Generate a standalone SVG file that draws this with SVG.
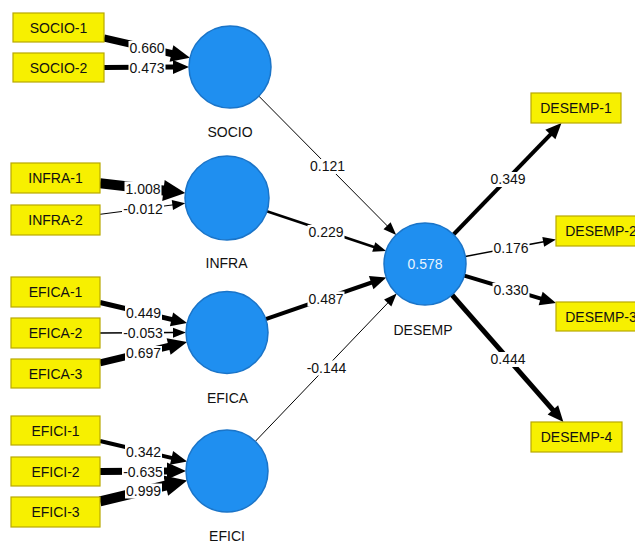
<svg xmlns="http://www.w3.org/2000/svg" width="635" height="543" viewBox="0 0 635 543">
<style>
.box{fill:#f7f000;stroke:#b8a800;stroke-width:1.2}
.lv{fill:#1f8ff0;stroke:#1a74c8;stroke-width:1.5}
.t{font-family:"Liberation Sans",Arial,sans-serif;font-size:14px;fill:#111;text-anchor:middle}
.bg{fill:#fff}
.c{stroke:#000;fill:none;stroke-linecap:butt}
.h{fill:#000}
</style>
<defs>
<polygon id="hs" points="0,0 -13,-5 -13,5"/>
<polygon id="hm" points="0,0 -16,-7 -16,7"/>
<polygon id="hl" points="0,0 -19,-8.5 -19,8.5"/>
<polygon id="hx" points="0,0 -22,-10.5 -22,10.5"/>
</defs>
<rect width="635" height="543" fill="#fff"/>
<g id="connectors">
<line class="c" x1="104" y1="38" x2="173.5" y2="54" stroke-width="7"/>
<use class="h" href="#hl" transform="translate(190,57.8) rotate(12.97)"/>
<line class="c" x1="104" y1="67.4" x2="175" y2="67.1" stroke-width="5"/>
<use class="h" href="#hm" transform="translate(189,67) rotate(-0.2)"/>
<line class="c" x1="100" y1="183.2" x2="165.4" y2="190.8" stroke-width="10"/>
<use class="h" href="#hx" transform="translate(185.3,193.1) rotate(6.65)"/>
<line class="c" x1="100" y1="214.3" x2="174.4" y2="204.7" stroke-width="1"/>
<use class="h" href="#hs" transform="translate(185.3,203.3) rotate(-7.31)"/>
<line class="c" x1="100" y1="302.5" x2="173.5" y2="319.9" stroke-width="5"/>
<use class="h" href="#hm" transform="translate(187.1,323.1) rotate(13.29)"/>
<line class="c" x1="100" y1="332.9" x2="175" y2="332.6" stroke-width="1.5"/>
<use class="h" href="#hs" transform="translate(186,332.6) rotate(-0.2)"/>
<line class="c" x1="100" y1="362.9" x2="170.6" y2="346" stroke-width="7"/>
<use class="h" href="#hl" transform="translate(187.1,342) rotate(-13.44)"/>
<line class="c" x1="100" y1="441" x2="173.5" y2="458.4" stroke-width="4"/>
<use class="h" href="#hm" transform="translate(187.1,461.6) rotate(13.29)"/>
<line class="c" x1="100" y1="471.4" x2="169" y2="471.1" stroke-width="7"/>
<use class="h" href="#hl" transform="translate(186,471) rotate(-0.2)"/>
<line class="c" x1="100" y1="501.4" x2="167.6" y2="485.2" stroke-width="10"/>
<use class="h" href="#hx" transform="translate(187.1,480.5) rotate(-13.44)"/>
<line class="c" x1="258.8" y1="96.1" x2="388.5" y2="227.1" stroke-width="1"/>
<use class="h" href="#hs" transform="translate(396.2,234.9) rotate(45.29)"/>
<line class="c" x1="266.8" y1="211.3" x2="374.7" y2="247.2" stroke-width="2.5"/>
<use class="h" href="#hs" transform="translate(386.1,251) rotate(18.43)"/>
<line class="c" x1="265.7" y1="319.1" x2="373.1" y2="282" stroke-width="4"/>
<use class="h" href="#hm" transform="translate(386.3,277.4) rotate(-19.08)"/>
<line class="c" x1="255.3" y1="441.4" x2="389.1" y2="301.6" stroke-width="1"/>
<use class="h" href="#hs" transform="translate(396.7,293.6) rotate(-46.27)"/>
<line class="c" x1="453.5" y1="234.5" x2="551.8" y2="133.1" stroke-width="4"/>
<use class="h" href="#hm" transform="translate(561.5,123) rotate(-45.94)"/>
<line class="c" x1="465.3" y1="256.4" x2="545.2" y2="241.4" stroke-width="1.5"/>
<use class="h" href="#hs" transform="translate(556,239.4) rotate(-10.62)"/>
<line class="c" x1="464.3" y1="275.7" x2="542.6" y2="299.1" stroke-width="4"/>
<use class="h" href="#hm" transform="translate(556,303.1) rotate(16.61)"/>
<line class="c" x1="452" y1="294.8" x2="553.5" y2="410.7" stroke-width="5"/>
<use class="h" href="#hm" transform="translate(563.4,422) rotate(48.8)"/>
<rect class="bg" x="128.5" y="41" width="37" height="15"/><text class="t" x="147" y="53">0.660</text>
<rect class="bg" x="128.5" y="61" width="37" height="15"/><text class="t" x="147" y="73">0.473</text>
<rect class="bg" x="124.5" y="181.5" width="37" height="15"/><text class="t" x="143" y="193.5">1.008</text>
<rect class="bg" x="122" y="202" width="42" height="15"/><text class="t" x="143" y="214">-0.012</text>
<rect class="bg" x="125" y="306" width="37" height="15"/><text class="t" x="143.5" y="318">0.449</text>
<rect class="bg" x="122" y="326" width="42" height="15"/><text class="t" x="143" y="338">-0.053</text>
<rect class="bg" x="125" y="346" width="37" height="15"/><text class="t" x="143.5" y="358">0.697</text>
<rect class="bg" x="125" y="444.5" width="37" height="15"/><text class="t" x="143.5" y="456.5">0.342</text>
<rect class="bg" x="122" y="465" width="42" height="15"/><text class="t" x="143" y="477">-0.635</text>
<rect class="bg" x="125" y="483.5" width="37" height="15"/><text class="t" x="143.5" y="495.5">0.999</text>
<rect class="bg" x="309" y="159" width="37" height="15"/><text class="t" x="327.5" y="171">0.121</text>
<rect class="bg" x="307.5" y="225" width="37" height="15"/><text class="t" x="326" y="237">0.229</text>
<rect class="bg" x="307.5" y="291.5" width="37" height="15"/><text class="t" x="326" y="303.5">0.487</text>
<rect class="bg" x="305.5" y="360.5" width="42" height="15"/><text class="t" x="326.5" y="372.5">-0.144</text>
<rect class="bg" x="489.5" y="172" width="37" height="15"/><text class="t" x="508" y="184">0.349</text>
<rect class="bg" x="492.5" y="241" width="37" height="15"/><text class="t" x="511" y="253">0.176</text>
<rect class="bg" x="492.5" y="283" width="37" height="15"/><text class="t" x="511" y="295">0.330</text>
<rect class="bg" x="489.5" y="352" width="37" height="15"/><text class="t" x="508" y="364">0.444</text>
</g>
<g id="SOCIO-1"><rect class="box" x="13" y="13" width="91" height="29"/><text class="t" x="58.5" y="32.5">SOCIO-1</text></g>
<g id="SOCIO-2"><rect class="box" x="13" y="53" width="91" height="29"/><text class="t" x="58.5" y="72.5">SOCIO-2</text></g>
<g id="INFRA-1"><rect class="box" x="11" y="163" width="89" height="30"/><text class="t" x="55.5" y="183">INFRA-1</text></g>
<g id="INFRA-2"><rect class="box" x="11" y="205" width="89" height="30"/><text class="t" x="55.5" y="225">INFRA-2</text></g>
<g id="EFICA-1"><rect class="box" x="11" y="277" width="89" height="30"/><text class="t" x="55.5" y="297">EFICA-1</text></g>
<g id="EFICA-2"><rect class="box" x="11" y="318" width="89" height="30"/><text class="t" x="55.5" y="338">EFICA-2</text></g>
<g id="EFICA-3"><rect class="box" x="11" y="359" width="89" height="29"/><text class="t" x="55.5" y="378.5">EFICA-3</text></g>
<g id="EFICI-1"><rect class="box" x="11" y="416" width="89" height="29"/><text class="t" x="55.5" y="435.5">EFICI-1</text></g>
<g id="EFICI-2"><rect class="box" x="11" y="457" width="89" height="29"/><text class="t" x="55.5" y="476.5">EFICI-2</text></g>
<g id="EFICI-3"><rect class="box" x="11" y="497" width="89" height="30"/><text class="t" x="55.5" y="517">EFICI-3</text></g>
<g id="SOCIO"><circle class="lv" cx="230" cy="67" r="41"/><text class="t" x="230" y="137">SOCIO</text></g>
<g id="INFRA"><circle class="lv" cx="227" cy="198" r="42"/><text class="t" x="226.5" y="268">INFRA</text></g>
<g id="EFICA"><circle class="lv" cx="227" cy="332.5" r="41"/><text class="t" x="227.5" y="403">EFICA</text></g>
<g id="EFICI"><circle class="lv" cx="227" cy="471" r="41"/><text class="t" x="227" y="541">EFICI</text></g>
<g id="DESEMP"><circle class="lv" cx="425" cy="264" r="41"/><text class="t" x="425" y="269" style="fill:#e8f4ff">0.578</text><text class="t" x="423" y="335">DESEMP</text></g>
<g id="DESEMP-1"><rect class="box" x="531" y="93" width="90" height="30"/><text class="t" x="576" y="113">DESEMP-1</text></g>
<g id="DESEMP-2"><rect class="box" x="556" y="216" width="90" height="30"/><text class="t" x="601" y="236">DESEMP-2</text></g>
<g id="DESEMP-3"><rect class="box" x="556" y="302" width="90" height="29"/><text class="t" x="601" y="321.5">DESEMP-3</text></g>
<g id="DESEMP-4"><rect class="box" x="531" y="422" width="91" height="30"/><text class="t" x="576.5" y="442">DESEMP-4</text></g>
</svg>
